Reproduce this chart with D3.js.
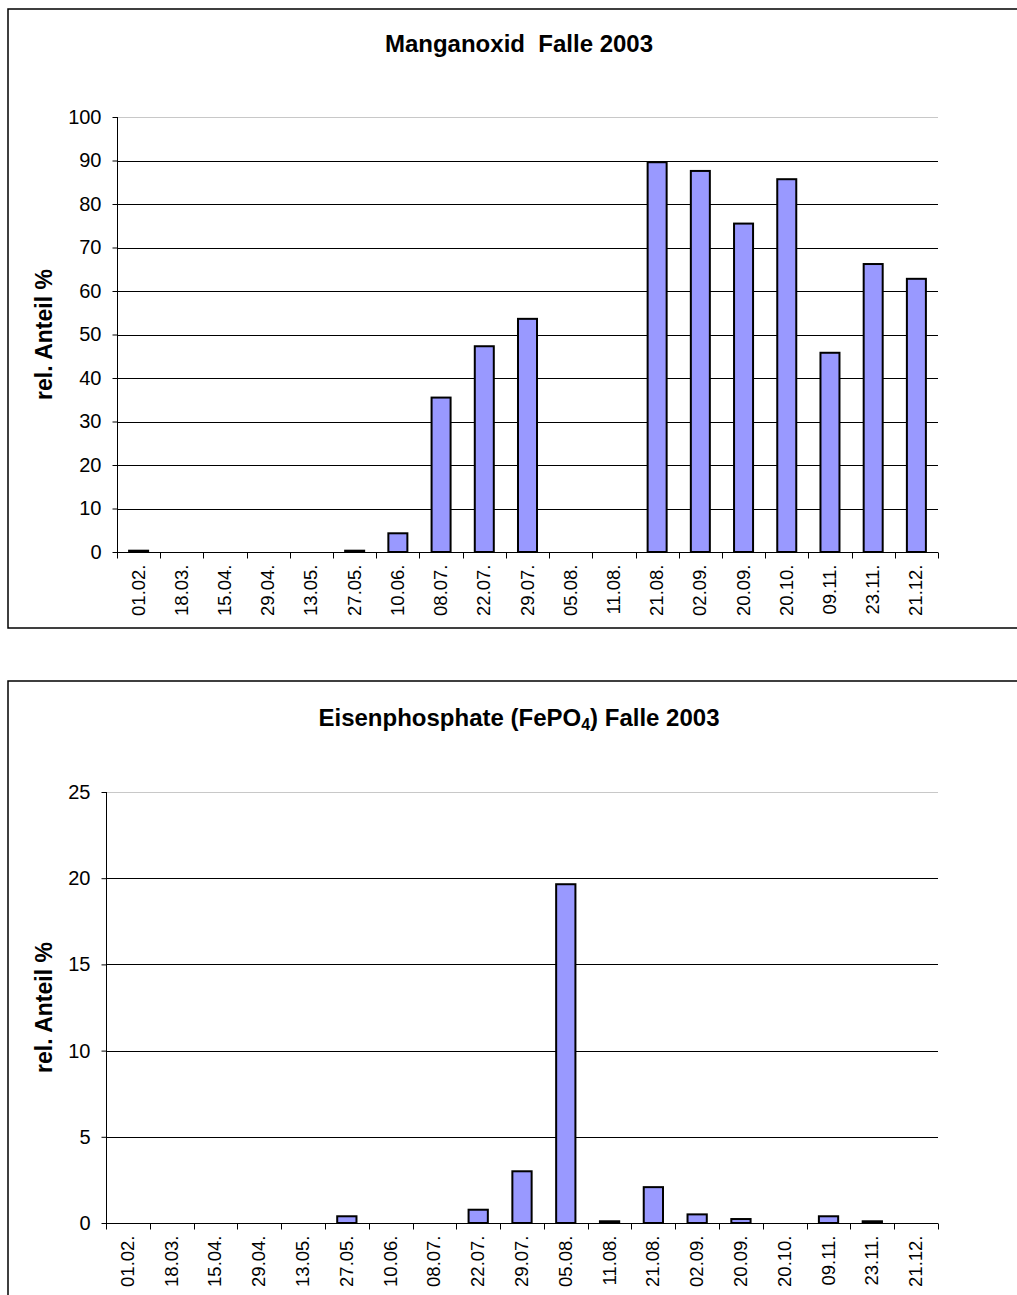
<!DOCTYPE html>
<html><head><meta charset="utf-8">
<script src="https://cdn.jsdelivr.net/npm/d3@7"></script>
<style>body{margin:0;background:#fff}svg{display:block}text{font-family:Arial,"Liberation Sans",sans-serif;white-space:pre}</style>
</head><body>
<script>
const categories = ["01.02.","18.03.","15.04.","29.04.","13.05.","27.05.","10.06.","08.07.","22.07.","29.07.","05.08.","11.08.","21.08.","02.09.","20.09.","20.10.","09.11.","23.11.","21.12."];
const manganValues = [0.3,0,0,0,0,0.3,4.3,35.5,47.3,53.6,0,0,89.6,87.6,75.5,85.7,45.8,66.2,62.8];
const eisenValues = [0,0,0,0,0,0.39,0,0,0.77,3.0,19.65,0.1,2.08,0.5,0.23,0,0.39,0.1,0];
const manganTicks = [0,10,20,30,40,50,60,70,80,90,100];
const eisenTicks = [0,5,10,15,20,25];

const svg = d3.select("body").append("svg").attr("width",1017).attr("height",1295);

function chart(cfg){
  const g = svg.append("g");
  g.append("rect").attr("x",cfg.fx).attr("y",cfg.fy).attr("width",cfg.fw).attr("height",cfg.fh)
    .attr("fill","#fff").attr("stroke","#000").attr("stroke-width",1.5);
  const x = d3.scaleBand().domain(categories).range([cfg.left,cfg.right]);
  const y = d3.scaleLinear().domain([0,cfg.max]).range([cfg.bottom,cfg.top]);
  g.selectAll(".grid").data(cfg.ticks.filter(t=>t>0)).join("line")
    .attr("x1",cfg.left).attr("x2",cfg.right)
    .attr("y1",d=>Math.round(y(d))+0.5).attr("y2",d=>Math.round(y(d))+0.5)
    .attr("stroke",d=>d===cfg.max?"#c8c8c8":"#000").attr("stroke-width",1);
  g.selectAll(".bar").data(cfg.values).join("rect")
    .attr("x",(d,i)=>x(categories[i])+x.bandwidth()*0.28)
    .attr("width",x.bandwidth()*0.44)
    .attr("y",d=>y(d)).attr("height",d=>cfg.bottom-y(d))
    .attr("fill","#9999ff").attr("stroke","#000").attr("stroke-width",2)
    .style("display",d=>d>0?null:"none");
  const ya = g.append("g").attr("transform",`translate(${cfg.left+0.5},0)`)
    .call(d3.axisLeft(y).tickValues(cfg.ticks).tickSize(5).tickPadding(11).tickFormat(d3.format("d")));
  ya.select(".domain").attr("stroke","#000").attr("d",`M-0,${cfg.top}V${cfg.bottom}`);
  ya.selectAll("text").attr("font-size",20).attr("fill","#000").attr("font-family","Arial, Liberation Sans, sans-serif");
  ya.selectAll("line").attr("stroke","#000");
  const xa = g.append("g").attr("transform",`translate(0,${cfg.bottom+0.5})`);
  xa.append("line").attr("x1",cfg.left).attr("x2",cfg.right).attr("stroke","#000");
  const bounds = categories.map(c=>x(c)).concat([cfg.right]);
  xa.selectAll(".tk").data(bounds).join("line")
    .attr("x1",d=>Math.round(d)+0.5).attr("x2",d=>Math.round(d)+0.5).attr("y1",0).attr("y2",6).attr("stroke","#000");
  xa.selectAll(".lb").data(categories).join("text")
    .attr("transform",d=>`translate(${x(d)+x.bandwidth()/2+6},12) rotate(-90)`)
    .attr("text-anchor","end").attr("font-size",18.5).text(d=>d);
  const t = g.append("text").attr("x",cfg.tx).attr("y",cfg.ty).attr("text-anchor","middle")
    .attr("font-size",24).attr("font-weight","bold");
  cfg.title(t);
  g.append("text").attr("transform",`translate(${cfg.lx},${(cfg.top+cfg.bottom)/2}) rotate(-90)`)
    .attr("text-anchor","middle").attr("font-size",23).attr("font-weight","bold").text("rel. Anteil %");
}

chart({fx:8,fy:9,fw:1020,fh:619,left:117,right:938,top:117,bottom:552,max:100,
  values:manganValues,ticks:manganTicks,tx:519,ty:52,lx:52,
  title:t=>{t.append("tspan").text("Manganoxid  Falle 2003");}});
chart({fx:8,fy:681,fw:1020,fh:640,left:106,right:938,top:792,bottom:1223,max:25,
  values:eisenValues,ticks:eisenTicks,tx:519,ty:726,lx:52,
  title:t=>{t.append("tspan").text("Eisenphosphate (FePO");
    t.append("tspan").attr("font-size",16).attr("dy",4).text("4");
    t.append("tspan").attr("dy",-4).text(") Falle 2003");}});
</script>
</body></html>
